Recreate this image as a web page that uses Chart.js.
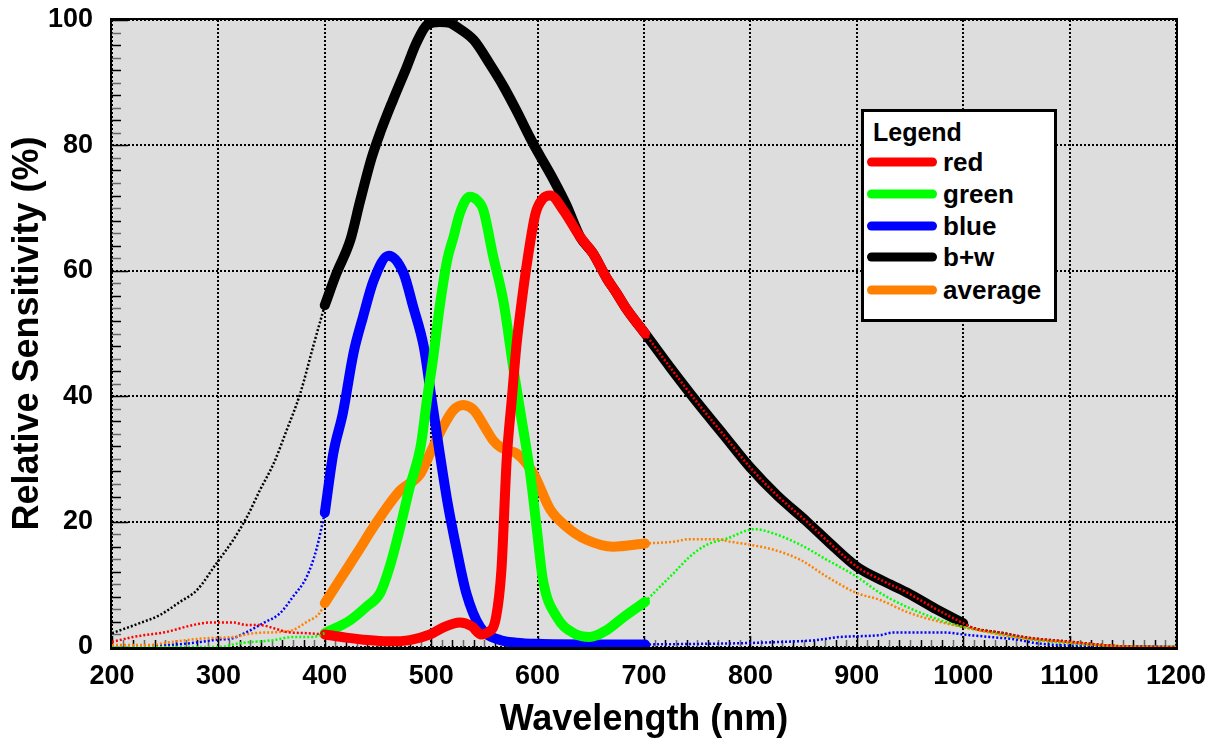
<!DOCTYPE html>
<html>
<head>
<meta charset="utf-8">
<script src="https://cdn.jsdelivr.net/npm/chart.js@4.4.1/dist/chart.umd.min.js"></script>
<style>
  html, body { margin: 0; padding: 0; background: #ffffff; }
  #wrap { position: relative; width: 1217px; height: 747px; }
  #legendBox {
    position: absolute; left: 861px; top: 109px; width: 196px; height: 213px;
    box-sizing: border-box; border: 3px solid #000; background: #fff;
    font-family: 'Liberation Sans', Arial, sans-serif; font-weight: bold; color: #000;
  }
  .lg-title { position: absolute; left: 9px; top: 20px; font-size: 25px; line-height: 26px; transform: translateY(-50%); }
  .lg-line { position: absolute; left: 3px; width: 70px; height: 9px; border-radius: 5px; transform: translateY(-50%); }
  .lg-text { position: absolute; left: 79px; font-size: 26px; line-height: 28px; transform: translateY(-50%); }
</style>
</head>
<body>
<div id="wrap">
  <canvas id="c" width="1217" height="747"></canvas>
  <div id="legendBox"></div>
</div>
<script>
// ---- data (wavelength nm / relative sensitivity %) ----
const bwNm  = [200,226,245,264,280,298,314,327,339,352,364,377,389,400,411,424,433,444,452,464,477,486,496,508,518,524,540,555,568,580,593,600,615,627,640,652,665,674,684,701,725,750,775,800,825,853,875,900,925,947,975,1000,1010,1035,1060,1082,1100,1119,1150,1200];
const bwVal = [2.2,3.8,5.1,7.2,9.1,13.3,17.1,20.8,25,29.3,34.5,40.5,47.9,54.5,59.6,64.9,71,78,82,87.2,92.5,96.3,99.2,99.7,99.5,98.9,96.8,93,89.4,85.6,81.2,79,74.5,70.5,65.4,62.8,58.8,56.5,53.8,50,44.5,39,33.8,28.6,24.2,20,16.5,12.8,10.5,8.7,6,3.8,3.0,2.3,1.5,1.1,0.85,0.5,0.1,0];

const redNm  = [200,220,251,276,292,314,327,339,352,364,383,400,420,440,460,480,499,511,527,538,547,553,561,566,571,576,580,585,590,598,605,612,624,640,652,665,674,684,701,725,750,775,800,825,853,875,900,925,947,975,1000,1010,1035,1060,1082,1100,1119,1150,1200];
const redVal = [0.8,1.6,2.4,3.5,3.9,3.9,3.5,3.5,3.0,2.4,2.2,2.0,1.5,1.1,0.9,1.1,2.0,3.1,3.9,3.3,2.0,2.3,4.8,12.3,30,40,47.9,55,61.2,69.1,71.5,72,69.7,65.4,62.8,58.8,56.5,53.8,50,44.5,39,33.8,28.6,24.2,20,16.5,12.8,10.5,8.7,6,3.8,3.0,2.3,1.5,1.1,0.85,0.5,0.1,0];

const greenNm  = [200,240,300,320,352,370,389,400,424,439,452,461,471,480,490,496,502,508,515,521,527,536,543,549,558,568,577,584,593,599,605,618,634,649,665,681,701,715,728,743,759,778,804,822,847,872,900,922,947,978,1000,1030,1060,1100,1150,1200];
const greenVal = [0,0,0,0.6,1.1,1.6,1.6,2.2,4.3,6.4,8.6,12.8,19.2,25.6,31.9,39.4,46.3,54.3,61.7,65.4,69.2,71.8,71.3,69.7,62.5,55,44.7,37.3,27.7,19.2,10.7,4.8,2.2,1.6,2.7,4.8,7.2,9.6,11.8,14.4,16.3,17.3,18.8,18.1,16.3,13.9,11.2,8.6,6.4,4.3,3.2,2.2,1.3,0.6,0.1,0];

const blueNm  = [200,251,283,300,311,327,342,358,370,383,392,400,408,417,427,436,446,460,474,483,493,500,508,515,524,533,546,565,580,600,650,701,790,828,862,884,922,934,984,1000,1025,1050,1069,1091,1120,1200];
const blueVal = [0.2,0.3,0.8,1.2,1.3,2.4,3.8,5.4,8.0,11.2,15.5,21.4,30.9,37.3,46.9,52.7,58.5,62.4,59.6,54.3,47.9,40,30.9,23.4,15.5,8.6,3.2,1.1,0.7,0.5,0.4,0.4,0.6,0.8,1.1,1.6,1.9,2.3,2.3,2.0,1.6,1.2,0.6,0.3,0.2,0];

const avgNm  = [200,235,251,270,289,314,333,358,370,383,395,400,414,430,446,461,471,490,499,511,521,530,540,552,558,565,575,580,596,612,627,646,671,701,728,743,768,781,800,822,847,872,900,922,947,978,1000,1034,1060,1100,1150,1200];
const avgVal = [0.3,0.3,0.7,1.1,1.4,1.6,2.2,2.4,2.7,4.0,5.4,7.0,10.7,14.9,19.2,22.9,25,27.7,30.9,35.1,37.8,38.6,37.8,34.6,33,31.9,31.2,30.9,27.7,21.9,19.2,17.1,16,16.5,16.8,17.2,17.2,16.8,16.3,15.5,13.9,11.2,8.6,7.5,5.6,4.0,3.2,2.0,1.3,0.7,0.1,0];

// measured ranges (drawn bold) for each sensor curve
const colourRange = [400, 701];
const bwRange = [400, 1000];

const xTicks = { min: 200, max: 1200, step: 100, minor: 10 };
const yTicks = { min: 0, max: 100, step: 20, minor: 2 };

const legendItems = [
  { label: 'red', color: '#ff0000' },
  { label: 'green', color: '#00ff00' },
  { label: 'blue', color: '#0000ff' },
  { label: 'b+w', color: '#000000' },
  { label: 'average', color: '#ff8000' }
];

// ---- helpers ----
function thickPts(nm, val, r) {
  return nm.map((x, i) => ({ x: x, y: val[i] })).filter(p => p.x >= r[0] && p.x <= r[1]);
}
function thinPts(nm, val, r) {
  const pts = [];
  let gapDone = false;
  nm.forEach((x, i) => {
    if (x <= r[0] || x >= r[1]) {
      if (x >= r[1] && !gapDone) { pts.push({ x: (r[0] + r[1]) / 2, y: null }); gapDone = true; }
      pts.push({ x: x, y: val[i] });
    }
  });
  return pts;
}
const CLIP = { left: 10, top: 0, right: 10, bottom: 4 };
function thickDs(label, nm, val, r, color) {
  return { label, data: thickPts(nm, val, r), borderColor: color, borderWidth: 10,
    borderCapStyle: 'round', borderJoinStyle: 'round', pointRadius: 0,
    cubicInterpolationMode: 'monotone', clip: CLIP, fill: false };
}
function thinDs(label, nm, val, r, color) {
  return { label, data: thinPts(nm, val, r), borderColor: color, borderWidth: 2.5,
    borderDash: [2, 2], pointRadius: 0, spanGaps: false,
    cubicInterpolationMode: 'monotone', clip: CLIP, fill: false };
}

// datasets listed top-most first
const datasets = [
  thinDs('red (outside)', redNm, redVal, colourRange, '#ff0000'),
  thinDs('average (outside)', avgNm, avgVal, colourRange, '#ff8000'),
  thinDs('green (outside)', greenNm, greenVal, colourRange, '#00ff00'),
  thinDs('blue (outside)', blueNm, blueVal, colourRange, '#0000ff'),
  thinDs('b+w (outside)', bwNm, bwVal, bwRange, '#000000'),
  thickDs('red', redNm, redVal, colourRange, '#ff0000'),
  thickDs('green', greenNm, greenVal, colourRange, '#00ff00'),
  thickDs('blue', blueNm, blueVal, colourRange, '#0000ff'),
  thickDs('average', avgNm, avgVal, colourRange, '#ff8000'),
  thickDs('b+w', bwNm, bwVal, bwRange, '#000000')
];

const FONT = "'Liberation Sans', Arial, Helvetica, sans-serif";

const framePlugin = {
  id: 'frame',
  beforeDraw(chart) {
    const { ctx, chartArea: a } = chart;
    ctx.save();
    ctx.fillStyle = '#dddddd';
    ctx.fillRect(a.left, a.top, a.right - a.left, a.bottom - a.top);
    ctx.restore();
  },
  beforeDatasetsDraw(chart) {
    const { ctx, chartArea: a, scales } = chart;
    const x = scales.x, y = scales.y;
    ctx.save();
    ctx.lineWidth = 1.5;
    let k = 0;
    for (let v = xTicks.min; v <= xTicks.max + 0.001; v += xTicks.minor, k++) {
      const px = Math.round(x.getPixelForValue(v)) + 0.5;
      const major = Math.abs(v % xTicks.step) < 0.001;
      ctx.strokeStyle = (k % 2) ? '#6a6a6a' : '#000';
      ctx.beginPath();
      ctx.moveTo(px, a.bottom);
      ctx.lineTo(px, a.bottom - (major ? 11 : 7));
      ctx.stroke();
    }
    k = 0;
    for (let v = yTicks.min; v <= yTicks.max + 0.001; v += yTicks.minor, k++) {
      const py = Math.round(y.getPixelForValue(v)) + 0.5;
      const major = Math.abs(v % yTicks.step) < 0.001;
      ctx.strokeStyle = (k % 2) ? '#6a6a6a' : '#000';
      ctx.beginPath();
      ctx.moveTo(a.left, py);
      ctx.lineTo(a.left + (major ? 16 : 9), py);
      ctx.stroke();
    }
    ctx.restore();
  },
  afterDatasetsDraw(chart) {
    const { ctx, chartArea: a } = chart;
    ctx.save();
    ctx.strokeStyle = '#000';
    ctx.lineWidth = 2;
    ctx.strokeRect(a.left - 1, a.top - 1, a.right - a.left + 2, a.bottom - a.top + 2);
    ctx.lineWidth = 3;
    ctx.beginPath();
    ctx.moveTo(a.left - 2, a.bottom + 1.5);
    ctx.lineTo(a.right + 2, a.bottom + 1.5);
    ctx.stroke();
    ctx.restore();
  }
};

new Chart(document.getElementById('c'), {
  type: 'line',
  data: { datasets },
  plugins: [framePlugin],
  options: {
    responsive: false,
    animation: false,
    devicePixelRatio: 1,
    layout: { padding: { left: 0, right: 41, top: 20, bottom: 0 } },
    plugins: { legend: { display: false }, tooltip: { enabled: false } },
    scales: {
      x: {
        type: 'linear', min: xTicks.min, max: xTicks.max,
        afterFit(s) { s.height = 100; s.paddingLeft = 0; s.paddingRight = 0; },
        ticks: { stepSize: xTicks.step, color: '#000', padding: 13,
          callback: (v) => String(v),
          font: { family: FONT, weight: 'bold', size: 27 } },
        grid: { color: '#000', lineWidth: 2, drawTicks: false },
        border: { display: false, dash: [2, 2] },
        title: { display: true, text: 'Wavelength (nm)', color: '#000',
          font: { family: FONT, weight: 'bold', size: 36 }, padding: { top: 0, bottom: 5 } }
      },
      y: {
        type: 'linear', min: yTicks.min, max: yTicks.max,
        afterFit(s) { s.width = 112; s.paddingTop = 0; s.paddingBottom = 0; },
        ticks: { stepSize: yTicks.step, color: '#000', padding: 19,
          callback: (v) => String(v),
          font: { family: FONT, weight: 'bold', size: 27 } },
        grid: { color: '#000', lineWidth: 2, drawTicks: false },
        border: { display: false, dash: [2, 2] },
        title: { display: true, text: 'Relative Sensitivity (%)', color: '#000',
          font: { family: FONT, weight: 'bold', size: 36 }, padding: { top: 6, bottom: 0 } }
      }
    }
  }
});

// legend overlay (real text)
(function () {
  const box = document.getElementById('legendBox');
  const t = document.createElement('div');
  t.className = 'lg-title'; t.textContent = 'Legend';
  box.appendChild(t);
  const rowY = [50, 82, 114, 145, 178];
  legendItems.forEach((it, i) => {
    const ln = document.createElement('div');
    ln.className = 'lg-line'; ln.style.top = rowY[i] + 'px'; ln.style.background = it.color;
    box.appendChild(ln);
    const tx = document.createElement('div');
    tx.className = 'lg-text'; tx.style.top = rowY[i] + 'px'; tx.textContent = it.label;
    box.appendChild(tx);
  });
})();
</script>
</body>
</html>
